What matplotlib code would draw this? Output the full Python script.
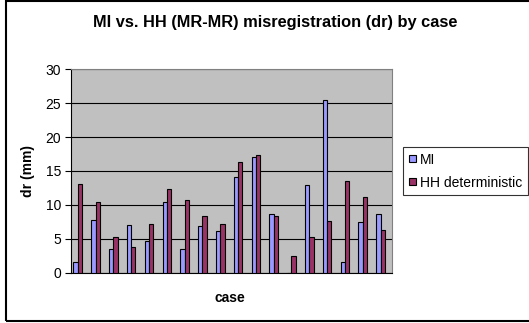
"""MI vs. HH misregistration (dr) per case, clustered bar chart."""

import matplotlib
matplotlib.use("Agg")
import matplotlib.pyplot as plt
import matplotlib.patches as mpatches
import numpy as np

plt.rcParams["font.family"] = ["Liberation Sans", "DejaVu Sans"]

# dr (mm) for each case, two registration methods
cases = list(range(1, 19))
mi_dr = [1.6, 7.8, 3.5, 7.0, 4.6, 10.4, 3.5, 6.8, 6.1, 14.1,
         17.1, 8.6, 0.0, 12.9, 25.4, 1.5, 7.5, 8.6]
hh_dr = [13.0, 10.4, 5.2, 3.7, 7.1, 12.3, 10.7, 8.4, 7.1, 16.3,
         17.4, 8.3, 2.4, 5.3, 7.6, 13.5, 11.1, 6.3]
y_ticks = [0, 5, 10, 15, 20, 25, 30]

MI_COLOR = "#9999FF"
HH_COLOR = "#993366"

W, H = 529, 323
fig = plt.figure(figsize=(W / 100, H / 100), dpi=100)
ax = fig.add_axes([71 / W, 1 - 272.5 / H, 320.7 / W, 203.2 / H])

x = np.arange(len(cases))
bw = 0.24
ax.bar(x - bw / 2, mi_dr, bw, color=MI_COLOR, edgecolor="black",
       linewidth=0.8, label="MI", zorder=3)
ax.bar(x + bw / 2, hh_dr, bw, color=HH_COLOR, edgecolor="black",
       linewidth=0.8, label="HH deterministic", zorder=3)

ax.set_facecolor("#C0C0C0")
ax.set_xlim(-0.376, len(cases) - 0.376)
ax.set_ylim(0, 30)
ax.set_yticks(y_ticks)
ax.set_xticks([])
ax.tick_params(axis="y", length=4, width=0.8, labelsize=10, pad=3)
ax.yaxis.grid(True, color="black", linewidth=0.8, zorder=1)
for side in ("top", "right"):
    ax.spines[side].set_color("#808080")
    ax.spines[side].set_linewidth(0.8)
ax.spines["left"].set_color("black")
ax.spines["bottom"].set_color("black")
ax.spines["left"].set_linewidth(0.8)
ax.spines["bottom"].set_linewidth(0.8)

ax.set_ylabel("dr (mm)", fontsize=10, fontweight="bold", labelpad=8)
fig.text(230 / W, 1 - 298 / H, "case", fontsize=10, fontweight="bold",
         ha="center", va="center")
fig.text(275 / W, 1 - 23 / H, "MI vs. HH (MR-MR) misregistration (dr) by case",
         fontsize=11.8, fontweight="bold", ha="center", va="center")

leg = fig.legend(loc="upper left", bbox_to_anchor=(403 / W, 1 - 147 / H),
                 bbox_transform=fig.transFigure, fontsize=10, frameon=True,
                 fancybox=False, edgecolor="black", handlelength=0.5,
                 handleheight=0.4, handletextpad=0.35, labelspacing=0.65,
                 borderpad=0.4, borderaxespad=0)
leg.get_frame().set_linewidth(0.8)

# chart border
fig.patches.append(mpatches.Rectangle(
    (6 / W, 1 - 321 / H), 1.0, 320 / H, transform=fig.transFigure,
    fill=False, edgecolor="black", linewidth=1.5))

fig.savefig("out.png", dpi=100)
plt.close(fig)
